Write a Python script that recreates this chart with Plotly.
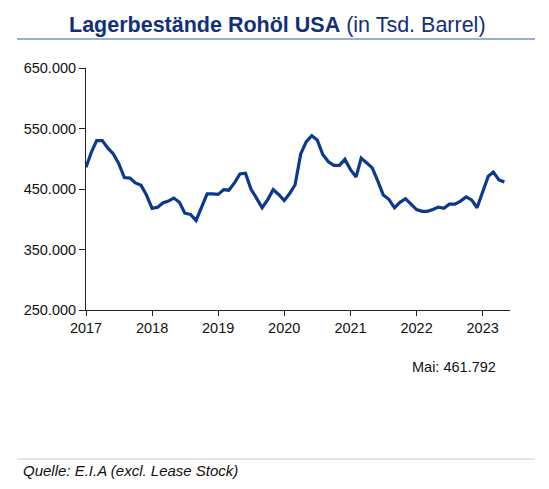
import pandas as pd
import plotly.graph_objects as go

# Monatswerte Rohöl-Lagerbestände USA (Tsd. Barrel), Jan 2017 - Mai 2023
months = pd.date_range("2017-01-01", "2023-05-01", freq="MS")
stocks = [
    486000, 512000, 530000, 530000, 518000, 508000, 492000, 469000, 468000, 460000, 456000, 440000,
    418000, 420000, 427000, 430000, 435000, 428000, 410000, 408000, 398000, 420000, 442000, 442000,
    441000, 449000, 448000, 460000, 475000, 476000, 450000, 435000, 419000, 432000, 449000, 441000,
    431000, 443000, 457000, 508000, 528000, 538000, 531000, 507000, 495000, 489000, 489000, 499000,
    482000, 470000, 501000, 493000, 485000, 463000, 440000, 433000, 419000, 428000, 434000, 425000,
    416000, 413000, 413000, 416000, 420000, 418000, 425000, 425000, 430000, 437000, 432000, 419000,
    446000, 471000, 478000, 465000, 461792,
]
y_ticks = [250000, 350000, 450000, 550000, 650000]
year_ticks = pd.date_range("2017-01-01", "2023-01-01", freq="YS")
year_labels = [str(d.year) for d in year_ticks]

W, H = 549, 489
OFF = 8  # page body margin of the browser
L, R, T, B = 86 - OFF, 39 + OFF, 68 - OFF, 179 + OFF
plot_w = W - L - R
plot_h = H - T - B


def px_x(x):
    # Screen pixel -> paper coordinate (horizontal)
    return (x - OFF - L) / plot_w


def px_y(y):
    # Screen pixel -> paper coordinate (vertical)
    return (H - B - (y - OFF)) / plot_h


navy = "#0b3a8c"
title_blue = "#12307a"
font = "Liberation Sans, Arial, sans-serif"

fig = go.Figure()
fig.add_trace(go.Scatter(
    x=months, y=stocks, mode="lines",
    line=dict(color=navy, width=3.2),
    hoverinfo="skip", showlegend=False,
))

fig.update_layout(
    width=W, height=H,
    margin=dict(l=L, r=R, t=T, b=B),
    paper_bgcolor="white", plot_bgcolor="white",
    separators=",.",
    font=dict(family=font, size=14.5, color="#111111"),
    xaxis=dict(
        range=["2017-01-01", "2023-06-01"],
        tickvals=year_ticks, ticktext=year_labels,
        showgrid=False, zeroline=False,
        showline=True, linecolor="#222222", linewidth=1,
        ticks="outside", ticklen=5, tickcolor="#222222",
        tickfont=dict(size=14.5), ticklabelstandoff=0,
    ),
    yaxis=dict(
        range=[250000, 650000],
        tickvals=y_ticks, tickformat=",.0f",
        showgrid=False, zeroline=False,
        showline=True, linecolor="#222222", linewidth=1,
        ticks="outside", ticklen=6, tickcolor="#222222",
        tickfont=dict(size=14.5),
    ),
    annotations=[
        dict(
            text="<b>Lagerbestände Rohöl USA</b> (in Tsd. Barrel)",
            xref="paper", yref="paper", x=px_x(277), y=px_y(25),
            xanchor="center", yanchor="middle", showarrow=False,
            font=dict(size=21.5, color=title_blue, family=font),
        ),
        dict(
            text="Mai: 461.792",
            xref="paper", yref="paper", x=px_x(498), y=px_y(367),
            xanchor="right", yanchor="middle", showarrow=False,
            font=dict(size=14.5, color="#111111", family=font),
        ),
        dict(
            text="<i>Quelle: E.I.A (excl. Lease Stock)</i>",
            xref="paper", yref="paper", x=px_x(21), y=px_y(470),
            xanchor="left", yanchor="middle", showarrow=False,
            font=dict(size=15, color="#111111", family=font),
        ),
    ],
    shapes=[
        dict(type="line", xref="paper", yref="paper",
             x0=px_x(17), x1=px_x(535), y0=px_y(39), y1=px_y(39),
             line=dict(color="#3a5fa8", width=1.2)),
        dict(type="line", xref="paper", yref="paper",
             x0=px_x(17), x1=px_x(535), y0=px_y(459), y1=px_y(459),
             line=dict(color="#c8c8c8", width=1)),
    ],
)

fig.write_html("out.html")
